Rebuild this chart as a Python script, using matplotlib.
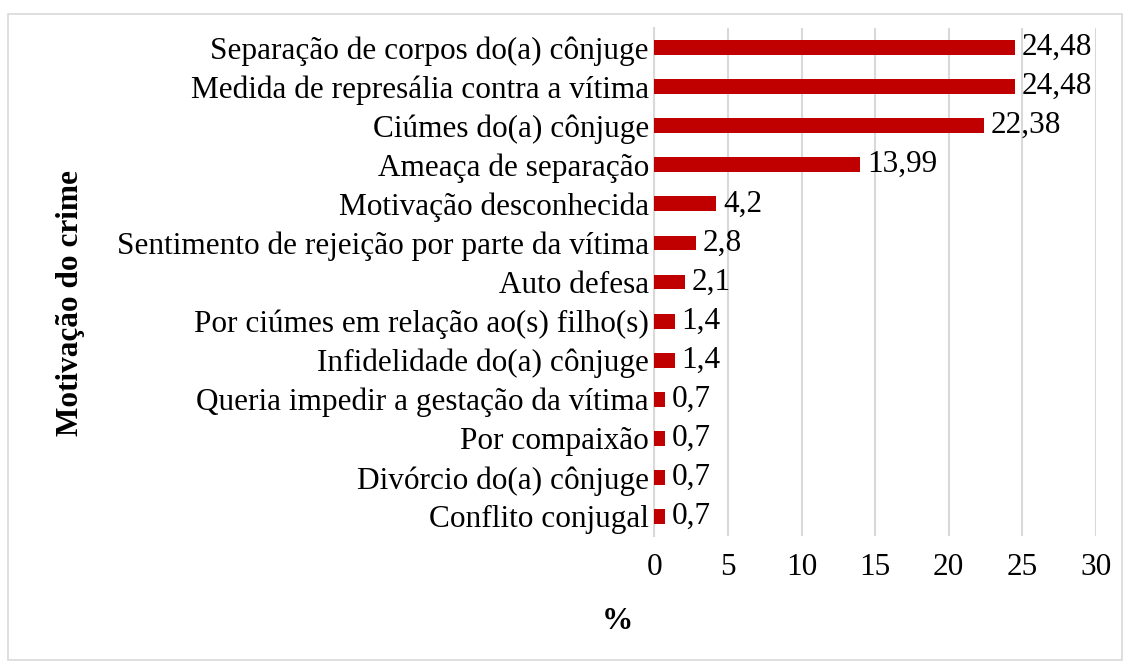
import matplotlib.pyplot as plt
from matplotlib.patches import Rectangle

categories = [
    "Separação de corpos do(a) cônjuge",
    "Medida de represália contra a vítima",
    "Ciúmes do(a) cônjuge",
    "Ameaça de separação",
    "Motivação desconhecida",
    "Sentimento de rejeição por parte da vítima",
    "Auto defesa",
    "Por ciúmes em relação ao(s) filho(s)",
    "Infidelidade do(a) cônjuge",
    "Queria impedir a gestação da vítima",
    "Por compaixão",
    "Divórcio do(a) cônjuge",
    "Conflito conjugal",
]
values = [24.48, 24.48, 22.38, 13.99, 4.2, 2.8, 2.1, 1.4, 1.4, 0.7, 0.7, 0.7, 0.7]
xticks = [0, 5, 10, 15, 20, 25, 30]

plt.rcParams["font.family"] = ["Liberation Serif", "DejaVu Serif"]
fs = 22.5

fig = plt.figure(figsize=(11.3, 6.68), dpi=100)
fig.add_artist(Rectangle((0.007, 0.012), 0.986, 0.967, transform=fig.transFigure,
                         fill=False, edgecolor="#D9D9D9", linewidth=1.2))
ax = fig.add_axes([0.5792, 0.1976, 0.3905, 0.7604])

pos = list(range(len(categories)))
ax.barh(pos, values, height=0.38, color="#C00000", zorder=3)
for p, v in zip(pos, values):
    ax.text(v + 0.45, p, f"{v:g}".replace(".", ","), va="center", ha="left", fontsize=fs)

ax.set_ylim(len(categories) - 0.5, -0.5)
ax.set_xlim(0, 30)
ax.set_yticks(pos)
ax.set_yticklabels(categories, fontsize=fs)
ax.set_xticks(xticks)
ax.set_xticklabels([str(t) for t in xticks], fontsize=fs)
ax.tick_params(length=0, pad=4)
ax.tick_params(axis="x", pad=12)
ax.grid(axis="x", color="#D9D9D9", linewidth=1.5, zorder=0)
for s in ["top", "right", "bottom"]:
    ax.spines[s].set_visible(False)
ax.spines["left"].set_color("#D9D9D9")
ax.spines["left"].set_linewidth(1.5)

fig.text(0.062, 0.546, "Motivação do crime", rotation=90, ha="center", va="center",
         fontsize=fs, fontweight="bold")
fig.text(0.546, 0.07, "%", ha="center", va="center", fontsize=fs, fontweight="bold")

fig.savefig("out.png", dpi=100)
